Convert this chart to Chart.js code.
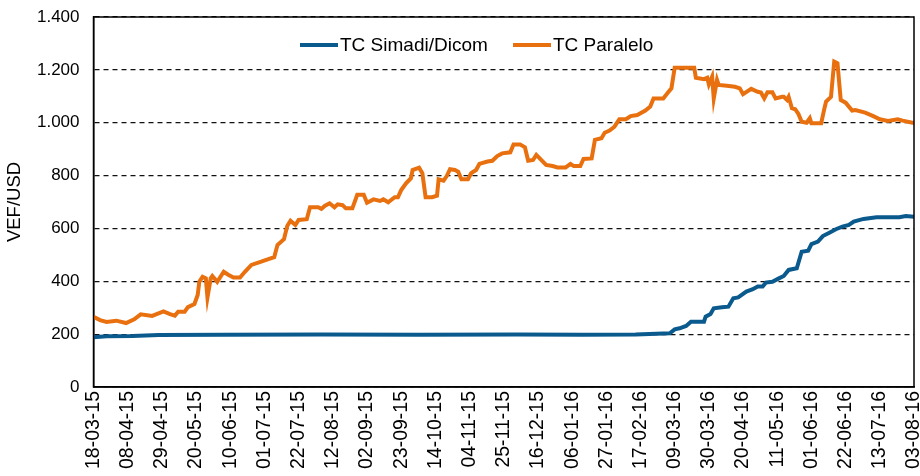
<!DOCTYPE html>
<html>
<head>
<meta charset="utf-8">
<script src="https://cdn.jsdelivr.net/npm/chart.js@4.4.1/dist/chart.umd.min.js"></script>
<style>
  html, body { margin: 0; padding: 0; background: #fff; }
  #wrap { width: 920px; height: 476px; }
</style>
</head>
<body>
<div id="wrap"><canvas id="tcChart" width="920" height="476"></canvas></div>
<script>
// Tick labels: one every 21 days from 18-03-15
var tickLabels = ['18-03-15', '08-04-15', '29-04-15', '20-05-15', '10-06-15', '01-07-15', '22-07-15',
	'12-08-15', '02-09-15', '23-09-15', '14-10-15', '04-11-15', '25-11-15', '16-12-15', '06-01-16',
	'27-01-16', '17-02-16', '09-03-16', '30-03-16', '20-04-16', '11-05-16', '01-06-16', '22-06-16',
	'13-07-16', '03-08-16'];

// Days since 18-03-15 and VEF/USD
var paraleloDays = [0, 4, 8, 14, 20, 25, 29, 36, 43, 47, 50, 52, 56, 58, 62, 64, 65, 67, 69, 70,
	72, 73, 76, 80, 83, 86, 90, 93, 97, 103, 107, 111, 113, 117, 119, 121, 124, 126, 131, 133,
	138, 140, 142, 145, 148, 150, 153, 155, 159, 162, 166, 168, 172, 176, 178, 181, 185, 187, 189, 192,
	195, 196, 200, 202, 204, 208, 211, 212, 215, 217, 219, 222, 224, 226, 230, 232, 235, 237, 242, 245,
	248, 251, 256, 258, 262, 265, 267, 270, 272, 275, 278, 282, 285, 290, 293, 295, 299, 301, 306, 308,
	312, 314, 317, 320, 323, 327, 330, 334, 339, 342, 344, 350, 353, 355, 357, 369, 370, 375, 377, 378,
	380, 381, 383, 384, 389, 394, 397, 399, 404, 408, 410, 412, 414, 417, 419, 423, 424, 426, 427, 429,
	431, 433, 435, 438, 440, 441, 447, 449, 450, 453, 455, 457, 459, 462, 466, 468, 474, 479, 483, 488,
	494, 497, 503, 504];
var paraleloValues = [266, 253, 246, 251, 242, 256, 275, 269, 286, 276, 270, 285, 285, 302, 314, 348, 398, 417, 411, 339,
	411, 420, 398, 436, 424, 414, 414, 436, 462, 474, 483, 491, 537, 559, 609, 629, 613, 632, 635, 680,
	680, 674, 685, 695, 680, 691, 688, 676, 676, 727, 727, 697, 710, 704, 710, 699, 718, 718, 745, 771,
	790, 821, 830, 809, 718, 718, 724, 786, 781, 798, 824, 821, 815, 786, 786, 809, 821, 844, 853, 856,
	874, 884, 888, 918, 918, 907, 856, 859, 878, 859, 840, 836, 831, 831, 844, 836, 836, 863, 865, 935,
	941, 962, 970, 985, 1013, 1013, 1025, 1029, 1046, 1061, 1092, 1092, 1115, 1130, 1208, 1208, 1170, 1165, 1170, 1145,
	1174, 1092, 1162, 1143, 1140, 1136, 1130, 1108, 1128, 1117, 1114, 1092, 1115, 1115, 1092, 1098, 1098, 1086, 1098, 1055,
	1051, 1033, 1004, 1000, 1017, 998, 998, 1055, 1080, 1098, 1231, 1225, 1086, 1076, 1046, 1048, 1038, 1025, 1013, 1007,
	1013, 1008, 1000, 1000];

var simadiDays = [0, 8, 24, 40, 80, 140, 200, 260, 300, 333, 354, 357, 360, 364, 367, 375, 376, 379, 381, 386,
	390, 393, 396, 401, 405, 408, 411, 413, 417, 421, 424, 427, 432, 435, 439, 441, 445, 448, 452, 456,
	460, 464, 467, 473, 481, 495, 499, 504];
var simadiValues = [188, 192, 193, 197, 198, 199, 198, 199, 198, 199, 203, 218, 222, 231, 247, 247, 266, 276, 298, 302,
	304, 336, 339, 361, 370, 380, 380, 395, 398, 411, 420, 443, 449, 512, 516, 541, 550, 571, 584, 597,
	607, 613, 626, 636, 642, 642, 647, 644];

var FONT = 'Liberation Sans, Arial, sans-serif';
var BLUE = '#0a5a8e';
var ORANGE = '#e8700e';

function toPoints(days, values) {
	return days.map(function (d, i) { return { x: d, y: values[i] }; });
}

// Legend inside the plot plus the frame around it
var framePlugin = {
	id: 'frame',
	afterDatasetsDraw: function (chart) {
		var ctx = chart.ctx, a = chart.chartArea;
		ctx.save();
		ctx.strokeStyle = '#000';
		ctx.lineWidth = 1.5;
		ctx.strokeRect(a.left, a.top, a.right - a.left, a.bottom - a.top);

		var items = [{ x: 300, ds: 0 }, { x: 513, ds: 1 }];
		ctx.font = '19px ' + FONT;
		ctx.textBaseline = 'middle';
		items.forEach(function (it) {
			var ds = chart.data.datasets[it.ds];
			ctx.strokeStyle = ds.borderColor;
			ctx.lineWidth = 4;
			ctx.beginPath();
			ctx.moveTo(it.x, 45);
			ctx.lineTo(it.x + 38, 45);
			ctx.stroke();
			ctx.fillStyle = '#000';
			ctx.fillText(ds.label, it.x + 40, 46);
		});
		ctx.restore();
	}
};

var tcChart = new Chart(document.getElementById('tcChart'), {
	type: 'line',
	data: {
		datasets: [
			{
				label: 'TC Simadi/Dicom',
				data: toPoints(simadiDays, simadiValues),
				borderColor: BLUE,
				borderWidth: 4,
				pointRadius: 0,
				tension: 0
			},
			{
				label: 'TC Paralelo',
				data: toPoints(paraleloDays, paraleloValues),
				borderColor: ORANGE,
				borderWidth: 4,
				pointRadius: 0,
				tension: 0
			}
		]
	},
	options: {
		responsive: false,
		animation: false,
		layout: { padding: { top: 17, right: 6, left: 0, bottom: 0 } },
		plugins: {
			legend: { display: false },
			tooltip: { enabled: false }
		},
		scales: {
			x: {
				type: 'linear',
				min: 0,
				max: 504,
				grid: { display: false, drawTicks: false },
				border: { color: '#000', width: 1.5 },
				afterFit: function (s) {
					s.height = 89;
					s.paddingLeft = 0;
					s.paddingRight = 0;
				},
				ticks: {
					stepSize: 21,
					autoSkip: false,
					minRotation: 90,
					maxRotation: 90,
					padding: 4,
					color: '#000',
					font: { family: FONT, size: 19.5 },
					callback: function (v) { return tickLabels[Math.round(v / 21)]; }
				}
			},
			y: {
				min: 0,
				max: 1400,
				grid: { color: '#111', lineWidth: 1.2, drawTicks: false },
				border: { color: '#000', width: 1.5, dash: [5, 4] },
				afterFit: function (s) {
					s.width = 93.5;
					s.paddingTop = 0;
					s.paddingBottom = 0;
				},
				title: {
					display: true,
					text: 'VEF/USD',
					color: '#000',
					font: { family: FONT, size: 18.5 },
					padding: { top: 4, bottom: 4 }
				},
				ticks: {
					stepSize: 200,
					padding: 14,
					color: '#000',
					font: { family: FONT, size: 17 },
					callback: function (v) { return v.toLocaleString('de-DE'); }
				}
			}
		}
	},
	plugins: [framePlugin]
});
</script>
</body>
</html>
